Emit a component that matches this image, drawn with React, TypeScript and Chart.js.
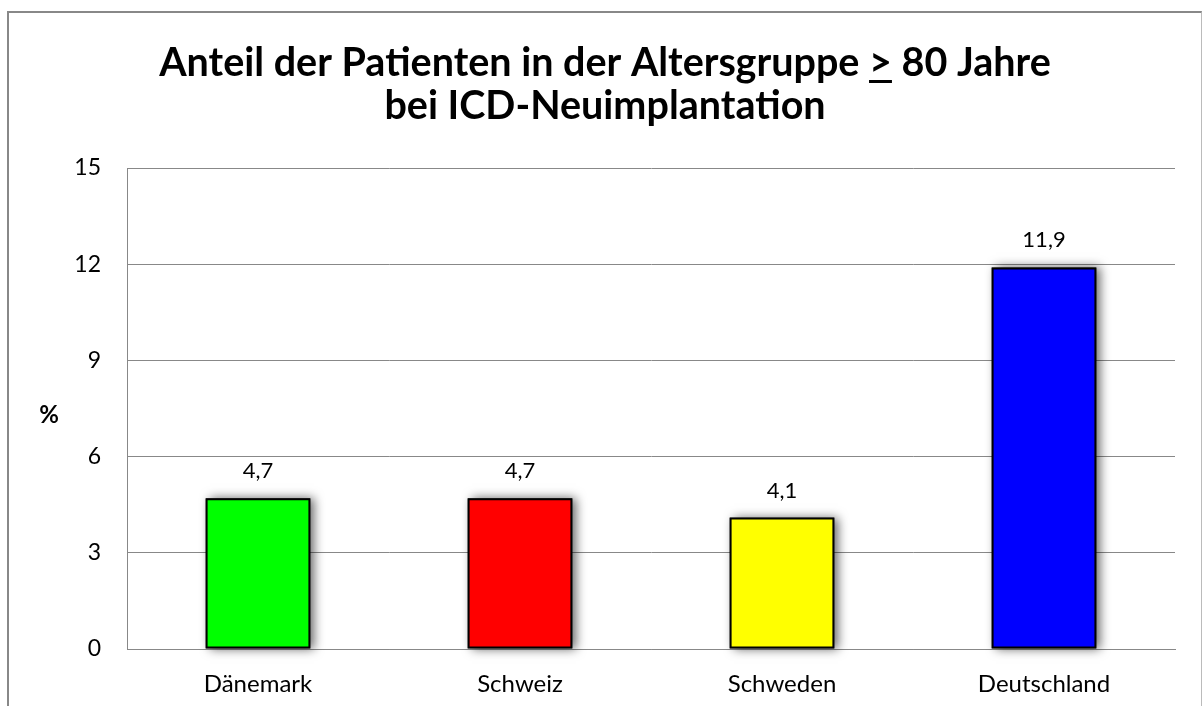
import React, { useEffect, useRef } from "react";
import { Chart, registerables } from "chart.js";

Chart.register(...registerables);

const categories = ["Dänemark", "Schweiz", "Schweden", "Deutschland"];
const values = [4.7, 4.7, 4.1, 11.9];
const barColors = ["#00FF00", "#FF0000", "#FFFF00", "#0000FF"];
const yTicks = [0, 3, 6, 9, 12, 15];
const titleLine1Before = "Anteil der Patienten in der Altersgruppe ";
const titleLine1Mark = ">";
const titleLine1After = " 80 Jahre";
const titleLine2 = "bei ICD-Neuimplantation";
const yAxisLabel = "%";

const FONT = "Lato, 'Open Sans', sans-serif";

export default function App() {
  const ref = useRef<HTMLCanvasElement | null>(null);

  useEffect(() => {
    if (!ref.current) return;

    const shadowPlugin = {
      id: "barShadow",
      beforeDatasetsDraw(chart: any) {
        const ctx = chart.ctx;
        const meta = chart.getDatasetMeta(0);
        ctx.save();
        ctx.shadowColor = "rgba(0,0,0,0.6)";
        ctx.shadowBlur = 10;
        ctx.shadowOffsetX = 4;
        ctx.shadowOffsetY = 0;
        ctx.fillStyle = "#000";
        meta.data.forEach((bar: any) => {
          const p = bar.getProps(["x", "y", "base", "width"], true);
          const left = p.x - p.width / 2;
          ctx.fillRect(left, p.y, p.width, p.base - p.y);
        });
        ctx.restore();
      },
    };

    const labelsPlugin = {
      id: "valueLabels",
      afterDatasetsDraw(chart: any) {
        const ctx = chart.ctx;
        const meta = chart.getDatasetMeta(0);
        ctx.save();
        ctx.font = `22px ${FONT}`;
        ctx.fillStyle = "#000";
        ctx.textAlign = "center";
        ctx.textBaseline = "alphabetic";
        meta.data.forEach((bar: any, i: number) => {
          const v = values[i];
          ctx.fillText(v.toFixed(1).replace(".", ","), bar.x, bar.y - 20);
        });
        ctx.restore();
      },
    };

    const titlePlugin = {
      id: "customTitle",
      afterDraw(chart: any) {
        const ctx = chart.ctx;
        const cx = chart.width / 2;
        ctx.save();
        ctx.fillStyle = "#000";
        ctx.font = `bold 39.5px ${FONT}`;
        ctx.textBaseline = "alphabetic";
        ctx.textAlign = "left";
        const full = titleLine1Before + titleLine1Mark + titleLine1After;
        const w = ctx.measureText(full).width;
        const x0 = cx - w / 2;
        ctx.fillText(full, x0, 63);
        const wb = ctx.measureText(titleLine1Before).width;
        const wm = ctx.measureText(titleLine1Mark).width;
        ctx.fillRect(x0 + wb, 67, wm, 3);
        ctx.textAlign = "center";
        ctx.fillText(titleLine2, cx, 106);
        // y-axis label
        ctx.font = `bold 24px ${FONT}`;
        ctx.textBaseline = "middle";
        ctx.fillText(yAxisLabel, 40, 402);
        ctx.restore();
      },
    };

    const chart = new Chart(ref.current, {
      type: "bar",
      data: {
        labels: categories,
        datasets: [
          {
            data: values,
            backgroundColor: barColors,
            borderColor: "#000",
            borderWidth: 2,
            borderSkipped: false,
            barPercentage: 0.4,
            categoryPercentage: 1.0,
          },
        ],
      },
      options: {
        animation: false,
        responsive: false,
        maintainAspectRatio: false,
        layout: { padding: { top: 155, right: 26, left: 0, bottom: 0 } },
        plugins: {
          legend: { display: false },
          title: { display: false },
          tooltip: { enabled: false },
        },
        scales: {
          x: {
            grid: { display: false, drawTicks: false },
            border: { display: true, color: "#888", width: 1 },
            ticks: {
              color: "#000",
              font: { family: FONT, size: 24 },
              padding: 21,
            },
            afterFit(scale: any) {
              scale.height = 57;
            },
          },
          y: {
            min: 0,
            max: 15,
            afterBuildTicks(scale: any) {
              scale.ticks = yTicks.map((v) => ({ value: v }));
            },
            grid: { color: "#888", lineWidth: 1, drawTicks: false },
            border: { display: true, color: "#888", width: 1 },
            ticks: {
              color: "#000",
              font: { family: FONT, size: 23 },
              padding: 26,
            },
            afterFit(scale: any) {
              scale.width = 118;
            },
          },
        },
      },
      plugins: [shadowPlugin, labelsPlugin, titlePlugin],
    });

    return () => chart.destroy();
  }, []);

  return (
    <div
      style={{
        position: "absolute",
        left: 7,
        top: 11,
        width: 1192,
        height: 695,
        borderLeft: "2px solid #888",
        borderTop: "2px solid #888",
        borderRight: "1px solid #bbb",
        overflow: "hidden",
        background: "#fff",
      }}
    >
      <canvas ref={ref} width={1192} height={693} style={{ display: "block" }} />
    </div>
  );
}
